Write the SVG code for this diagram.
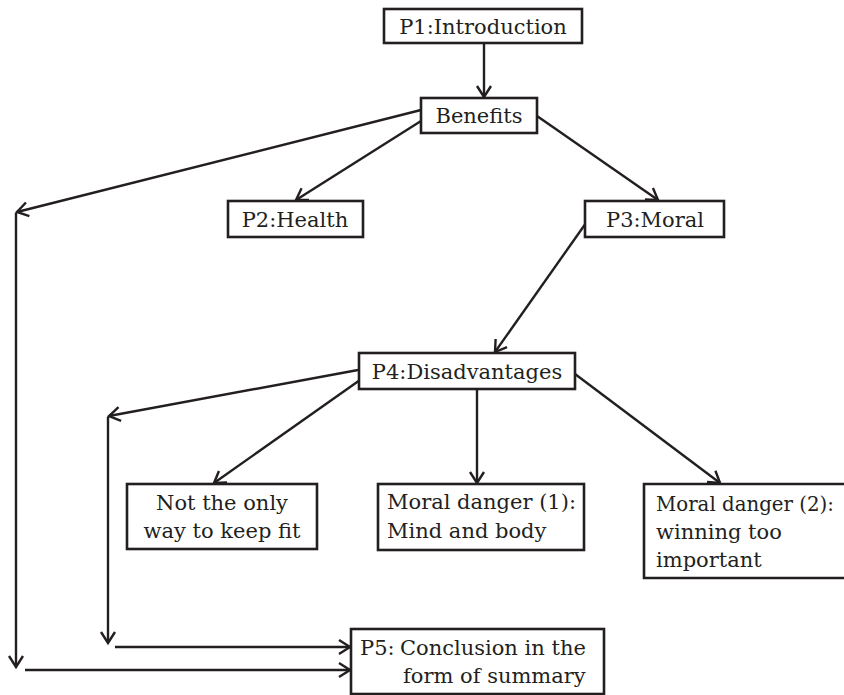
<svg xmlns="http://www.w3.org/2000/svg" width="844" height="695" viewBox="0 0 844 695">
<defs>
<marker id="arr" markerUnits="userSpaceOnUse" markerWidth="16" markerHeight="18" refX="12" refY="8" orient="auto" overflow="visible">
<path d="M1,1 L12,8 L1,15" fill="none" stroke="#231f20" stroke-width="2.4" stroke-linejoin="miter"/>
</marker>
<style>
.box{fill:#fff;stroke:#231f20;stroke-width:2.6}
.t{font-family:"DejaVu Serif","Liberation Serif",serif;font-size:21px;fill:#231f20}
.c{text-anchor:middle}
.la{fill:none;stroke:#231f20;stroke-width:2.4;marker-end:url(#arr)}
</style>
</defs>
<rect width="844" height="695" fill="#fff"/>
<g id="connectors">
<line class="la" x1="484" y1="43" x2="484" y2="97"/>
<line class="la" x1="421" y1="121" x2="296" y2="200"/>
<line class="la" x1="537" y1="116" x2="658" y2="200"/>
<line class="la" x1="421" y1="110" x2="17" y2="212"/>
<line class="la" x1="16" y1="213" x2="16" y2="667"/>
<line class="la" x1="25" y1="670" x2="350" y2="670"/>
<line class="la" x1="586" y1="223" x2="495" y2="352"/>
<line class="la" x1="358" y1="370" x2="109" y2="416"/>
<line class="la" x1="108" y1="417" x2="108" y2="643"/>
<line class="la" x1="115" y1="647" x2="350" y2="647"/>
<line class="la" x1="360" y1="380" x2="214" y2="483"/>
<line class="la" x1="477" y1="389" x2="477" y2="483"/>
<line class="la" x1="575" y1="374" x2="720" y2="483"/>
</g>
<g id="p1">
<rect class="box" x="384" y="9" width="198" height="34"/>
<text class="t c" x="483" y="34">P1:Introduction</text>
</g>
<g id="benefits">
<rect class="box" x="421" y="98" width="116" height="35"/>
<text class="t c" x="479" y="123">Benefits</text>
</g>
<g id="p2">
<rect class="box" x="228" y="201" width="135" height="36"/>
<text class="t c" x="295" y="227">P2:Health</text>
</g>
<g id="p3">
<rect class="box" x="585" y="201" width="139" height="36"/>
<text class="t c" x="655" y="227">P3:Moral</text>
</g>
<g id="p4">
<rect class="box" x="359" y="353" width="216" height="36"/>
<text class="t c" x="467" y="379">P4:Disadvantages</text>
</g>
<g id="notonly">
<rect class="box" x="127" y="484" width="190" height="65"/>
<text class="t c" x="222" y="510">Not the only</text>
<text class="t c" x="222" y="538">way to keep fit</text>
</g>
<g id="md1">
<rect class="box" x="378" y="484" width="206" height="66"/>
<text class="t" x="387" y="509">Moral danger (1):</text>
<text class="t" x="387" y="538">Mind and body</text>
</g>
<g id="md2">
<path class="box" d="M844,484 H644 V578 H844"/>
<text class="t" x="656" y="511" textLength="178" lengthAdjust="spacingAndGlyphs">Moral danger (2):</text>
<text class="t" x="656" y="539">winning too</text>
<text class="t" x="656" y="567">important</text>
</g>
<g id="p5">
<rect class="box" x="351" y="629" width="253" height="65"/>
<text class="t" x="360" y="655">P5:</text>
<text class="t" x="400" y="655">Conclusion in the</text>
<text class="t" x="403" y="683">form of summary</text>
</g>
</svg>
